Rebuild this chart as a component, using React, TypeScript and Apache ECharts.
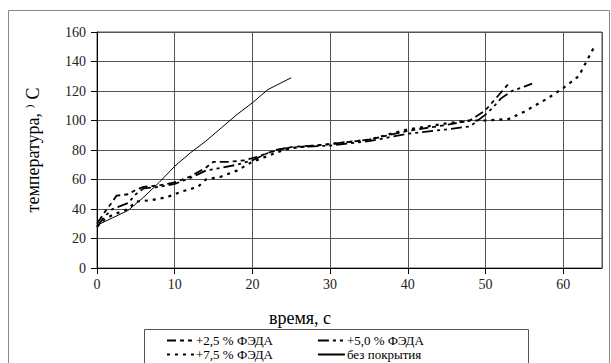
import React, { useEffect, useRef } from "react";
import * as echarts from "echarts";

const seriesNames = ["+2,5 % ФЭДА", "+5,0 % ФЭДА", "+7,5 % ФЭДА", "без покрытия"];

const s25: [number, number][] = [
  [0, 30], [1, 38], [2, 45], [2.5, 49], [4, 50], [5, 53], [6, 55], [8, 56], [10, 58], [12, 62],
  [14, 68], [15, 72], [17, 72], [19, 73], [21, 76], [23, 80], [25, 82], [28, 83], [30, 84],
  [35, 87], [40, 93], [45, 97], [48, 100], [50, 107], [52, 119], [53, 125],
];
const s50: [number, number][] = [
  [0, 28], [1, 35], [2, 40], [4, 44], [5, 50], [6, 54], [8, 55], [10, 57], [12, 61], [14, 66],
  [16, 68], [18, 70], [20, 73], [22, 78], [24, 81], [26, 82], [30, 83], [35, 86], [40, 91],
  [45, 94], [48, 96], [50, 104], [51, 109], [52, 115], [53.4, 120], [55, 123], [56, 125],
];
const s75: [number, number][] = [
  [0, 28], [1, 33], [2, 36], [4, 40], [5, 45], [7, 46], [9, 48], [11, 52], [13, 55], [14, 60],
  [16, 62], [18, 66], [20, 72], [22, 76], [24, 80], [26, 82], [30, 84], [35, 87], [40, 94],
  [45, 98], [48, 100], [50, 100], [53, 101], [55, 106], [58, 115], [60, 122], [62, 130],
  [63, 140], [64, 150],
];
const sNone: [number, number][] = [
  [0, 29], [2, 34], [4, 39], [6, 48], [8, 58], [10, 69], [12, 78], [14, 86], [16, 95],
  [18, 104], [20, 112], [22, 121], [25, 129],
];

const xTicks = [0, 10, 20, 30, 40, 50, 60];
const yTicks = [0, 20, 40, 60, 80, 100, 120, 140, 160];

const FONT = "'Liberation Serif', 'DejaVu Serif', serif";

export default function App() {
  const ref = useRef<HTMLDivElement>(null);
  useEffect(() => {
    if (!ref.current) return;
    const chart = echarts.init(ref.current, null, { renderer: "svg" });
    const legendBase = {
      orient: "horizontal" as const,
      itemWidth: 27,
      itemHeight: 10,
      itemGap: 44,
      padding: 0,
      itemStyle: { color: "rgba(0,0,0,0)", borderWidth: 0 },
      textStyle: { fontFamily: FONT, fontSize: 13, color: "#000", padding: [0, 0, 0, -3] },
    };
    chart.setOption({
      animation: false,
      backgroundColor: "#fff",
      grid: {
        left: 97,
        right: 9,
        top: 32,
        bottom: 95,
        show: true,
        borderColor: "#555",
        borderWidth: 1,
        containLabel: false,
      },
      legend: [
        { ...legendBase, left: 166, top: 334, data: [seriesNames[0], seriesNames[1]] },
        { ...legendBase, left: 166, top: 348, data: [seriesNames[2], seriesNames[3]] },
      ],
      xAxis: {
        type: "value",
        min: 0,
        max: 65,
        interval: 10,
        axisLine: { show: true, lineStyle: { color: "#000", width: 1 } },
        axisTick: { show: true, length: 6, inside: false, lineStyle: { color: "#000" } },
        axisLabel: {
          fontFamily: FONT,
          fontSize: 14,
          color: "#222",
          margin: 9,
          showMaxLabel: false,
          formatter: (v: number) => (xTicks.includes(v) ? String(v) : ""),
        },
        splitLine: { show: true, lineStyle: { color: "#555", width: 1 } },
      },
      yAxis: {
        type: "value",
        min: 0,
        max: 160,
        interval: 20,
        name: "температура, ⁾ С",
        nameLocation: "middle",
        nameGap: 55,
        nameTextStyle: { fontFamily: FONT, fontSize: 18, color: "#000" },
        axisLine: { show: true, lineStyle: { color: "#000", width: 1 } },
        axisTick: { show: true, length: 6, lineStyle: { color: "#000" } },
        axisLabel: {
          fontFamily: FONT,
          fontSize: 14,
          color: "#222",
          margin: 11,
          formatter: (v: number) => (yTicks.includes(v) ? String(v) : ""),
        },
        splitLine: { show: true, lineStyle: { color: "#555", width: 1 } },
      },
      graphic: [
        {
          type: "rect",
          shape: { x: 8.5, y: 10.5, width: 601, height: 370 },
          style: { fill: "none", stroke: "#888", lineWidth: 1 },
          silent: true,
        },
        {
          type: "rect",
          shape: { x: 144.5, y: 329.5, width: 384, height: 50 },
          style: { fill: "none", stroke: "#555", lineWidth: 1 },
          silent: true,
        },
        {
          type: "text",
          x: 300,
          y: 318,
          style: {
            text: "время, с",
            fontFamily: FONT,
            fontSize: 18,
            fill: "#000",
            align: "center",
            verticalAlign: "middle",
          },
        },
      ],
      series: [
        {
          name: seriesNames[0],
          type: "line",
          data: s25,
          symbol: "none",
          color: "#000",
          lineStyle: { color: "#000", width: 1.8, type: [9, 4, 4, 4, 4, 4] },
        },
        {
          name: seriesNames[1],
          type: "line",
          data: s50,
          symbol: "none",
          color: "#000",
          lineStyle: { color: "#000", width: 1.8, type: [11, 4, 3, 4, 3, 4] },
        },
        {
          name: seriesNames[2],
          type: "line",
          data: s75,
          symbol: "none",
          color: "#000",
          lineStyle: { color: "#000", width: 2.2, type: [3, 5] },
        },
        {
          name: seriesNames[3],
          type: "line",
          data: sNone,
          symbol: "none",
          color: "#000",
          lineStyle: { color: "#000", width: 1 },
        },
      ],
    });
    return () => chart.dispose();
  }, []);
  return (
    <div
      ref={ref}
      style={{ position: "fixed", left: 0, top: 0, width: 611, height: 363 }}
    />
  );
}
